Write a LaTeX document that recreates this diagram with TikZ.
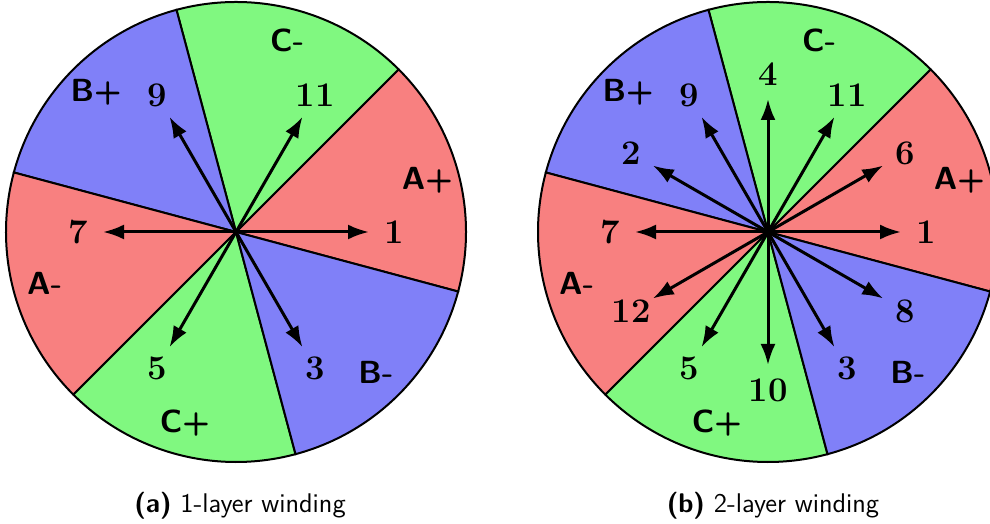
\documentclass[tikz,border=0pt]{standalone}
\usetikzlibrary{arrows.meta}
\definecolor{phasea}{RGB}{248,128,128}
\definecolor{phaseb}{RGB}{128,128,248}
\definecolor{phasec}{RGB}{128,248,128}
\begin{document}
\begin{tikzpicture}[
  x=0.5pt, y=0.5pt,
  sector/.style={draw=black, line width=1pt},
  phase/.style={font=\sffamily\bfseries\fontsize{16}{19}\selectfont, inner sep=0pt},
  slot/.style={font=\bfseries\LARGE, inner sep=0pt},
  coil/.style={-{Latex[length=10.5pt, width=7.5pt]}, line width=1.5pt},
  subcap/.style={font=\sffamily\fontsize{13.5}{16}\selectfont, inner sep=0pt}
]
\useasboundingbox (0,0) rectangle (990,524);
\coordinate (ca) at (236,292);
\coordinate (cb) at (768,292);

\foreach \c in {ca,cb}{
  \foreach \s/\col/\lab/\k in {-15/phasea/A+/1, 45/phasec/C-/2, 105/phaseb/B+/3, 165/phasea/A-/4, 225/phasec/C+/5, 285/phaseb/B-/6}{
    \filldraw[sector, fill=\col] (\c) -- ([shift={(\s:230)}]\c)
      arc[start angle=\s, end angle=\s+60, radius=115pt] -- cycle;
    \node[phase] (\c ph\k) at ([shift={(\s+30:198)}]\c) {\lab};
  }
}

\foreach \a/\n in {0/1, 60/11, 120/9, 180/7, 240/5, 300/3}{
  \coordinate (ta\n) at ([shift={(\a:133)}]ca);
  \node[slot] (la\n) at ([shift={(\a:158)}]ca) {\n};
  \draw[coil] (ca) -- (ta\n);
}

\foreach \a/\n in {0/1, 30/6, 60/11, 90/4, 120/9, 150/2, 180/7, 210/12, 240/5, 270/10, 300/3, 330/8}{
  \coordinate (tb\n) at ([shift={(\a:133)}]cb);
  \node[slot] (lb\n) at ([shift={(\a:158)}]cb) {\n};
  \draw[coil] (cb) -- (tb\n);
}

\node[subcap] (capa) at (240,18) {\textbf{(a)} 1-layer winding};
\node[subcap] (capb) at (773,18) {\textbf{(b)} 2-layer winding};
\end{tikzpicture}
\end{document}
